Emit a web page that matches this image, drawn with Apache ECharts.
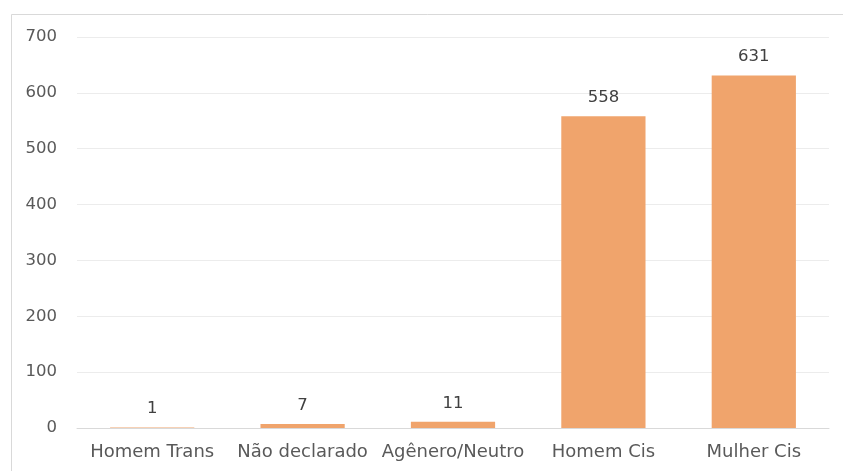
<!DOCTYPE html>
<html>
<head>
<meta charset="utf-8">
<script src="https://cdn.jsdelivr.net/npm/echarts@6/dist/echarts.min.js"></script>
<style>html,body{margin:0;padding:0;background:#fff}#c{width:843px;height:471px}</style>
</head>
<body>
<div id="c"></div>
<script>
const categories = ['Homem Trans', 'Não declarado', 'Agênero/Neutro', 'Homem Cis', 'Mulher Cis'];
const values = [1, 7, 11, 558, 631];
const yTicks = [0, 100, 200, 300, 400, 500, 600, 700];

const chart = echarts.init(document.getElementById('c'), null, {renderer: 'canvas'});
const font = '"DejaVu Sans", sans-serif';
chart.setOption({
  animation: false,
  backgroundColor: '#fff',
  graphic: [{
    type: 'rect', left: 9, top: 12, shape: {width: 900, height: 500},
    style: {fill: 'none', stroke: '#d9d9d9', lineWidth: 1}, silent: true
  }],
  grid: {left: 77, right: 14, top: 37, bottom: 43},
  xAxis: {
    type: 'category', data: categories,
    axisLine: {lineStyle: {color: '#d9d9d9', width: 1}},
    axisTick: {show: false},
    axisLabel: {color: '#595959', fontSize: 18, fontFamily: font, margin: 15, interval: 0}
  },
  yAxis: {
    type: 'value', min: yTicks[0], max: yTicks[yTicks.length - 1], interval: 100,
    axisLine: {show: false}, axisTick: {show: false},
    splitLine: {lineStyle: {color: '#ececec', width: 1}},
    axisLabel: {color: '#595959', fontSize: 16.5, fontFamily: font, margin: 20}
  },
  series: [{
    type: 'bar', data: values, barWidth: '56%',
    itemStyle: {color: '#F0A46C'},
    label: {show: true, position: 'top', distance: 10, color: '#404040', fontSize: 16.5, fontFamily: font}
  }]
});
</script>
</body>
</html>
